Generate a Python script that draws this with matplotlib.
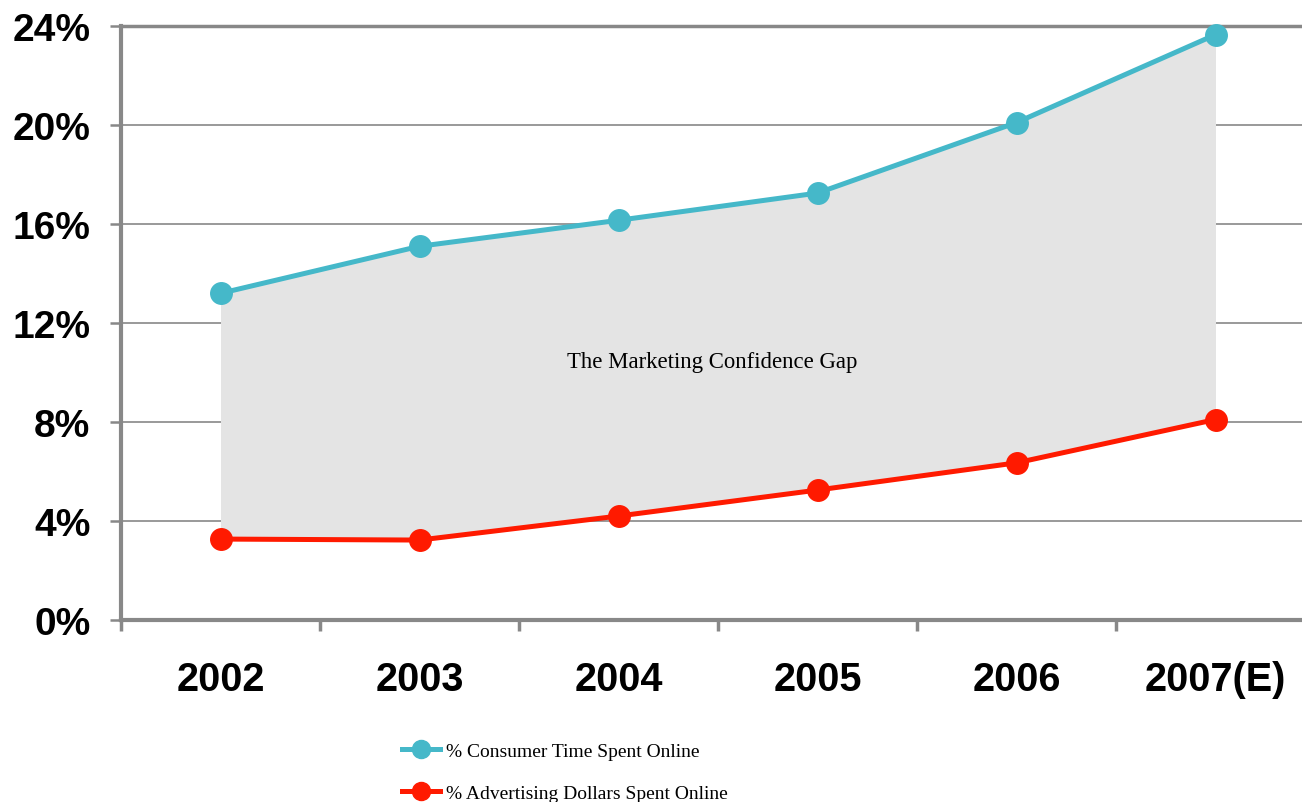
import matplotlib
matplotlib.use("Agg")
import matplotlib.pyplot as plt
from matplotlib.lines import Line2D

years = ["2002", "2003", "2004", "2005", "2006", "2007(E)"]
consumer_time = [13.2, 15.1, 16.15, 17.25, 20.1, 23.65]
ad_dollars = [3.27, 3.23, 4.2, 5.25, 6.35, 8.1]
y_ticks = [0, 4, 8, 12, 16, 20, 24]
y_labels = ["0%", "4%", "8%", "12%", "16%", "20%", "24%"]
series_names = ["% Consumer Time Spent Online", "% Advertising Dollars Spent Online"]
annotation = "The Marketing Confidence Gap"

CYAN = "#45B8C9"
RED = "#FF1A00"
GRID = "#888888"

W, H = 1302, 803
fig = plt.figure(figsize=(W / 100, H / 100), dpi=100)
left_px, bottom_px, top_px = 121, 621, 27
cat_w = 199
ax = fig.add_axes([left_px / W, 1 - bottom_px / H, 6 * cat_w / W, (bottom_px - top_px) / H])

x = list(range(len(years)))
ax.fill_between(x, ad_dollars, consumer_time, color="#E4E4E4", lw=0, zorder=1)
ax.plot(x, consumer_time, color=CYAN, lw=3.6, marker="o", ms=15.5, zorder=3, clip_on=False)
ax.plot(x, ad_dollars, color=RED, lw=3.6, marker="o", ms=15.5, zorder=3, clip_on=False)

ax.set_xlim(-0.5, len(years) - 0.5)
ax.set_ylim(0, 24)
ax.set_yticks(y_ticks)
ax.set_yticklabels(y_labels)
ax.set_xticks([i - 0.5 for i in x])
ax.set_xticklabels([])
ax.set_xticks(x, minor=True)
ax.set_xticklabels(years, minor=True)
ax.tick_params(axis="x", which="minor", length=0, pad=29)
ax.tick_params(axis="x", which="major", length=8, width=2.5, color=GRID, direction="out")
ax.tick_params(axis="y", length=8, width=1.8, color=GRID, direction="out", pad=14)
for lab in ax.get_yticklabels():
    lab.set_fontfamily("Liberation Sans")
    lab.set_fontweight("bold")
    lab.set_fontsize(28)
for lab in ax.get_xticklabels(minor=True):
    lab.set_fontfamily("Liberation Sans")
    lab.set_fontweight("bold")
    lab.set_fontsize(28.5)

ax.yaxis.grid(True, color=GRID, lw=1.2, zorder=0)
ax.set_axisbelow(True)
for s in ["left", "bottom", "top"]:
    ax.spines[s].set_color(GRID)
ax.spines["left"].set_linewidth(3)
ax.spines["bottom"].set_linewidth(3)
ax.spines["top"].set_linewidth(2.5)
ax.spines["right"].set_visible(False)

ax.text(2.47, 10.45, annotation, ha="center", va="center", fontsize=16.4,
        family="Liberation Serif", zorder=4)

handles = [Line2D([], [], color=CYAN, lw=3.6, marker="o", ms=13),
           Line2D([], [], color=RED, lw=3.6, marker="o", ms=13)]
fig.legend(handles, series_names, loc="upper left", bbox_to_anchor=(384 / W, 1 - 726 / H),
           frameon=False, prop={"family": "Liberation Serif", "size": 14},
           handlelength=2.0, handletextpad=0.3, labelspacing=1.25)

fig.savefig("out.png", dpi=100)
